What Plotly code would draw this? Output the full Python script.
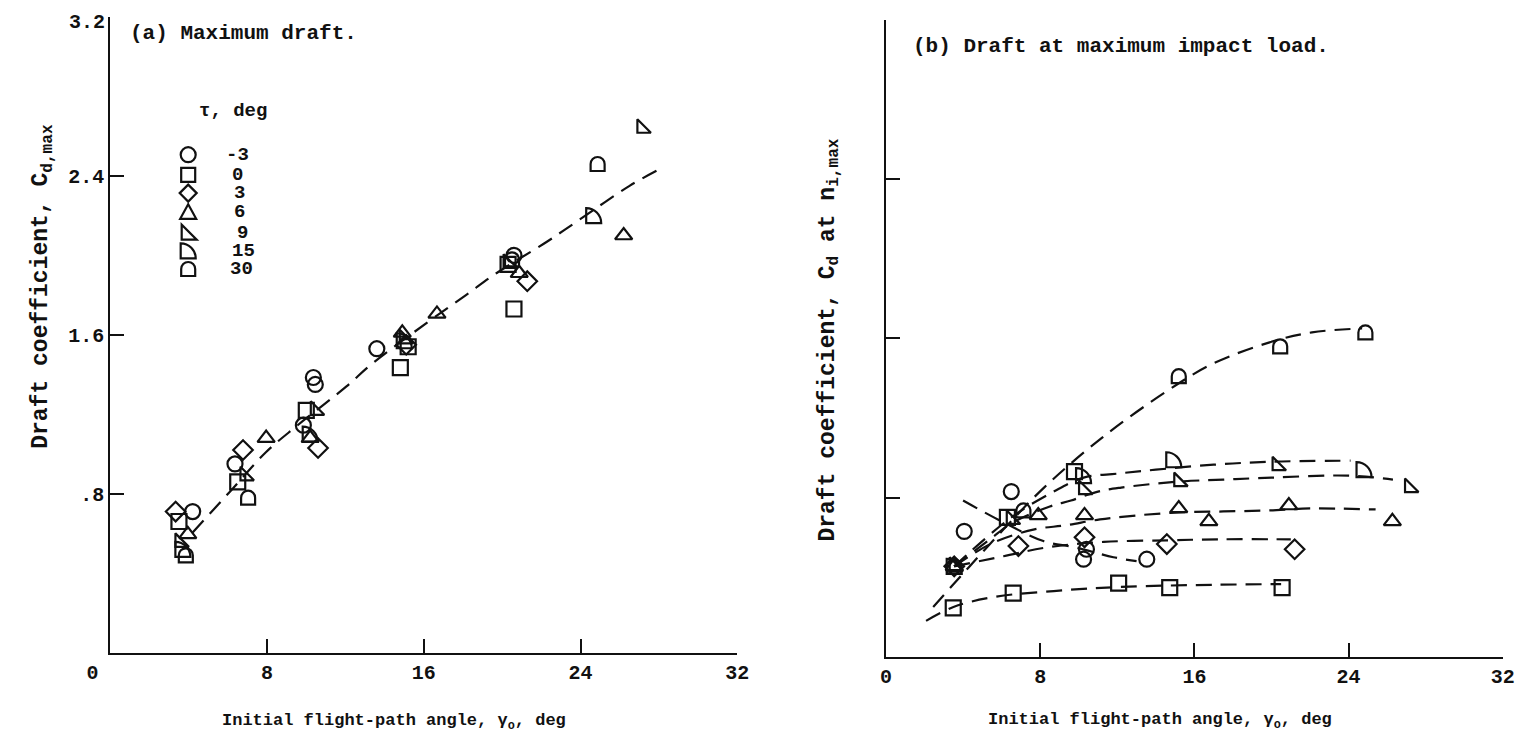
import plotly.graph_objects as go

# page is 1528x745; the html body adds an 8px margin, so the figure is 1512x729
PAGE_W, PAGE_H = 1528, 745
OFF = 8
W, H = PAGE_W - 2 * OFF, PAGE_H - 2 * OFF

# ---------------- panel (a): maximum draft ----------------
taus = ["-3", "0", "3", "6", "9", "15", "30"]

a_m3_x = [4.2, 6.36, 10.36, 10.46, 9.85, 13.6, 20.6]
a_m3_y = [0.71, 0.95, 1.385, 1.35, 1.145, 1.53, 2.0]
a_0_x = [3.5, 6.5, 10.0, 14.8, 15.2, 20.3, 20.6]
a_0_y = [0.66, 0.86, 1.22, 1.435, 1.54, 1.955, 1.73]
a_3_x = [3.33, 6.77, 10.6, 15.1, 21.28]
a_3_y = [0.71, 1.02, 1.03, 1.55, 1.87]
a_6_x = [3.95, 7.95, 10.2, 14.9, 16.67, 20.87, 26.2]
a_6_y = [0.595, 1.08, 1.08, 1.61, 1.705, 1.91, 2.10]
a_9_x = [3.55, 6.87, 10.46, 15.0, 20.3, 27.13]
a_9_y = [0.555, 0.89, 1.22, 1.58, 1.96, 2.64]
a_15_x = [3.7, 10.2, 15.0, 24.67]
a_15_y = [0.52, 1.10, 1.57, 2.20]
a_30_x = [3.85, 7.03, 20.5, 24.87]
a_30_y = [0.49, 0.78, 1.98, 2.46]

a_fit_x = [4.2, 6.1, 7.95, 9.5, 12.05, 13.3, 16.15, 18.15, 19.7, 22.3, 23.95, 26.5, 28.15]
a_fit_y = [0.605, 0.81, 1.01, 1.14, 1.34, 1.45, 1.66, 1.80, 1.91, 2.07, 2.18, 2.35, 2.44]

# ---------------- panel (b): draft at maximum impact load ----------------
b_m3_x = [4.06, 6.5, 10.4, 10.25, 13.53]
b_m3_y = [0.63, 0.83, 0.54, 0.49, 0.49]
b_0_x = [3.49, 6.3, 6.6, 9.78, 12.07, 14.72, 20.55]
b_0_y = [0.245, 0.70, 0.32, 0.93, 0.37, 0.347, 0.347]
b_3_x = [3.54, 6.87, 10.3, 14.57, 21.2]
b_3_y = [0.454, 0.556, 0.60, 0.566, 0.54]
b_6_x = [3.54, 7.9, 10.3, 15.19, 16.75, 20.9, 26.27]
b_6_y = [0.454, 0.71, 0.71, 0.745, 0.68, 0.76, 0.68]
b_9_x = [3.54, 6.5, 10.25, 15.19, 20.29, 27.16]
b_9_y = [0.454, 0.69, 0.84, 0.88, 0.96, 0.85]
b_15_x = [3.54, 10.25, 14.93, 24.8]
b_15_y = [0.454, 0.91, 0.99, 0.94]
b_30_x = [3.54, 7.13, 15.19, 20.45, 24.87]
b_30_y = [0.454, 0.735, 1.41, 1.56, 1.63]

b_fit_m3_x = [4.0, 6.0, 8.2, 9.8, 11.8, 13.0]
b_fit_m3_y = [0.785, 0.68, 0.58, 0.55, 0.50, 0.48]
b_fit_0_x = [2.08, 3.5, 5.6, 8.7, 12.0, 16.0, 20.5]
b_fit_0_y = [0.18, 0.25, 0.30, 0.33, 0.35, 0.36, 0.365]
b_fit_3_x = [3.54, 6.1, 8.4, 11.3, 14.6, 17.3, 21.0]
b_fit_3_y = [0.454, 0.505, 0.55, 0.577, 0.585, 0.59, 0.59]
b_fit_6_x = [3.54, 5.5, 7.7, 9.3, 11.1, 13.0, 15.2, 17.5, 19.8, 22.0, 25.4]
b_fit_6_y = [0.454, 0.57, 0.64, 0.66, 0.69, 0.71, 0.725, 0.73, 0.735, 0.745, 0.74]
b_fit_9_x = [3.54, 5.4, 6.5, 8.5, 9.6, 11.0, 12.2, 15.2, 17.5, 20.0, 24.0, 26.3]
b_fit_9_y = [0.454, 0.59, 0.67, 0.755, 0.785, 0.83, 0.85, 0.88, 0.89, 0.90, 0.91, 0.89]
b_fit_15_x = [3.54, 6.5, 8.7, 10.25, 12.0, 14.0, 17.0, 20.0, 24.1]
b_fit_15_y = [0.454, 0.70, 0.83, 0.90, 0.92, 0.94, 0.965, 0.98, 0.985]
b_fit_30_x = [2.45, 4.3, 6.1, 8.2, 11.2, 14.5, 16.9, 19.9, 22.1, 24.7]
b_fit_30_y = [0.25, 0.45, 0.64, 0.85, 1.10, 1.33, 1.47, 1.58, 1.63, 1.65]

x_ticks = [0, 8, 16, 24, 32]
x_ticktext_a = ["0\u00a0\u00a0\u00a0", "8", "16", "24", "32"]
x_ticktext_b = ["0", "8", "16", "24", "32"]
y_ticks = [0.8, 1.6, 2.4, 3.2]
y_ticktext = [".8", "1.6", "2.4", ""]   # top label drawn as an annotation below
y_top_value = 3.2
y_top_label = "3.2"

# ---------------- style ----------------
INK = "#111111"
FONT = "Liberation Mono"
FS_TICK = 20
FS_TXT = 21
FS_KEY = 19
FS_XT = 17
FS_YT = 23
MS = 15
LW = 2.2
DASH = "16px,9px"


def font(size):
    return dict(family=FONT, size=size, color=INK, weight="bold")


# symbol outlines (pixel offsets, y up) for shape-drawn markers
PATHS = {
    "-3": "M7.5,0 C7.5,4.1 4.1,7.5 0,7.5 C-4.1,7.5 -7.5,4.1 -7.5,0 C-7.5,-4.1 -4.1,-7.5 0,-7.5 C4.1,-7.5 7.5,-4.1 7.5,0 Z",
    "0": "M-7,-7 L7,-7 L7,7 L-7,7 Z",
    "3": "M0,8.5 L8.5,0 L0,-8.5 L-8.5,0 Z",
    "6": "M-8,-6.5 L8,-6.5 L0,8 Z",
    "9": "M-6.5,8 L-6.5,-7 L8.5,-7 Z",
    "15": "M-7.5,-7.5 L-7.5,7.5 C0.8,7.5 7.5,0.8 7.5,-7.5 Z",
    "30": "M-7,-7 L-7,0 C-7,3.9 -3.9,7 0,7 C3.9,7 7,3.9 7,0 L7,-7 Z",
}
SYMBOLS = {"-3": "circle-open", "0": "square-open", "3": "diamond-open",
           "6": "triangle-up-open", "9": "triangle-sw-open"}

# axes placement (page pixels)
LA = dict(x0=88.3, x1=730.5, y0=652.6, y1=17.0)
RA = dict(x0=882.8, x1=1514.7, y0=656.7, y1=20.0)


def px(v):
    return (v - OFF) / W


def py(v):
    return 1 - (v - OFF) / H


fig = go.Figure()
shapes = []
annotations = []


def add_points(xs, ys, tau, xa, ya):
    if tau in SYMBOLS:
        fig.add_trace(go.Scatter(
            x=xs, y=ys, mode="markers", xaxis=xa, yaxis=ya, showlegend=False,
            marker=dict(symbol=SYMBOLS[tau], size=MS, color=INK,
                        line=dict(width=LW, color=INK)),
            hoverinfo="x+y"))
    else:
        xref = "x" if xa == "x" else "x2"
        yref = "y" if ya == "y" else "y2"
        for xv, yv in zip(xs, ys):
            shapes.append(dict(type="path", xref=xref, yref=yref,
                               xsizemode="pixel", ysizemode="pixel",
                               xanchor=xv, yanchor=yv, path=PATHS[tau],
                               line=dict(color=INK, width=LW)))


def add_curve(xs, ys, xa, ya):
    fig.add_trace(go.Scatter(
        x=xs, y=ys, mode="lines", xaxis=xa, yaxis=ya, showlegend=False,
        line=dict(color=INK, width=LW, dash=DASH, shape="spline", smoothing=1.0),
        hoverinfo="skip"))


# panel (a)
add_curve(a_fit_x, a_fit_y, "x", "y")
for tau, xs, ys in zip(taus,
                       [a_m3_x, a_0_x, a_3_x, a_6_x, a_9_x, a_15_x, a_30_x],
                       [a_m3_y, a_0_y, a_3_y, a_6_y, a_9_y, a_15_y, a_30_y]):
    add_points(xs, ys, tau, "x", "y")

# panel (b)
for xs, ys in [(b_fit_m3_x, b_fit_m3_y), (b_fit_0_x, b_fit_0_y), (b_fit_3_x, b_fit_3_y),
               (b_fit_6_x, b_fit_6_y), (b_fit_9_x, b_fit_9_y), (b_fit_15_x, b_fit_15_y),
               (b_fit_30_x, b_fit_30_y)]:
    add_curve(xs, ys, "x2", "y2")
for tau, xs, ys in zip(taus,
                       [b_m3_x, b_0_x, b_3_x, b_6_x, b_9_x, b_15_x, b_30_x],
                       [b_m3_y, b_0_y, b_3_y, b_6_y, b_9_y, b_15_y, b_30_y]):
    add_points(xs, ys, tau, "x2", "y2")

# key inside panel (a)
key_sym_x = 168
key_row_y = [154.7, 174.9, 193.1, 212.3, 232.6, 250.8, 269.0]
key_lab_x = [205, 211, 213, 213, 216, 211, 209]
annotations.append(dict(text="τ, deg", x=px(177), y=py(111), xanchor="left", yanchor="middle",
                        font=font(FS_KEY)))
for tau, ry, lx in zip(taus, key_row_y, key_lab_x):
    shapes.append(dict(type="path", xref="paper", yref="paper",
                       xsizemode="pixel", ysizemode="pixel",
                       xanchor=px(key_sym_x), yanchor=py(ry), path=PATHS[tau],
                       line=dict(color=INK, width=LW)))
    annotations.append(dict(text=tau, x=px(lx), y=py(ry), xanchor="left", yanchor="middle",
                            font=font(FS_KEY)))

# top y tick label of panel (a), placed at the axis value (nudged to stay inside the page)
annotations.append(dict(text=y_top_label, x=px(LA["x0"] - 3), xref="paper",
                        y=y_top_value, yref="y", xanchor="right", yanchor="middle",
                        yshift=-5, font=font(FS_TICK)))

# panel captions and axis titles
annotations += [
    dict(text="(a) Maximum draft.", x=px(106), y=py(33), xanchor="left", yanchor="middle",
         font=font(FS_TXT)),
    dict(text="(b) Draft at maximum impact load.", x=px(908), y=py(46), xanchor="left",
         yanchor="middle", font=font(FS_TXT)),
    dict(text="Initial flight-path angle, γ<sub>o</sub>, deg", x=px(379), y=py(722),
         xanchor="center", yanchor="middle", font=font(FS_XT)),
    dict(text="Initial flight-path angle, γ<sub>o</sub>, deg", x=px(1164), y=py(721),
         xanchor="center", yanchor="middle", font=font(FS_XT)),
    dict(text="Draft coefficient, C<sub>d,max</sub>", x=px(18), y=py(286), textangle=-90,
         xanchor="center", yanchor="middle", font=font(FS_YT)),
    dict(text="Draft coefficient, C<sub>d</sub> at n<sub>i,max</sub>", x=px(824), y=py(340),
         textangle=-90, xanchor="center", yanchor="middle", font=font(FS_YT)),
]
for an in annotations:
    an.setdefault("xref", "paper")
    an.setdefault("yref", "paper")
    an["showarrow"] = False

axis_common = dict(showgrid=False, zeroline=False, showline=True, linecolor=INK, linewidth=LW,
                   ticks="inside", tickcolor=INK, tickwidth=LW, ticklen=14,
                   tickfont=font(FS_TICK), fixedrange=True)

fig.update_layout(
    width=W, height=H, paper_bgcolor="white", plot_bgcolor="white",
    margin=dict(l=0, r=0, t=0, b=0),
    showlegend=False,
    xaxis=dict(domain=[px(LA["x0"]), px(LA["x1"])], anchor="y", range=[0, 32],
               tickvals=x_ticks, ticktext=x_ticktext_a, **axis_common),
    yaxis=dict(domain=[py(LA["y0"]), py(LA["y1"])], anchor="x", range=[0, 3.2001],
               tickvals=y_ticks, ticktext=y_ticktext, **axis_common),
    xaxis2=dict(domain=[px(RA["x0"]), px(RA["x1"])], anchor="y2", range=[0, 32],
                tickvals=x_ticks, ticktext=x_ticktext_b, **axis_common),
    yaxis2=dict(domain=[py(RA["y0"]), py(RA["y1"])], anchor="x2", range=[0, 3.2001],
                tickvals=y_ticks, showticklabels=False, **axis_common),
    shapes=shapes,
    annotations=annotations,
)

fig.write_html("out.html")
